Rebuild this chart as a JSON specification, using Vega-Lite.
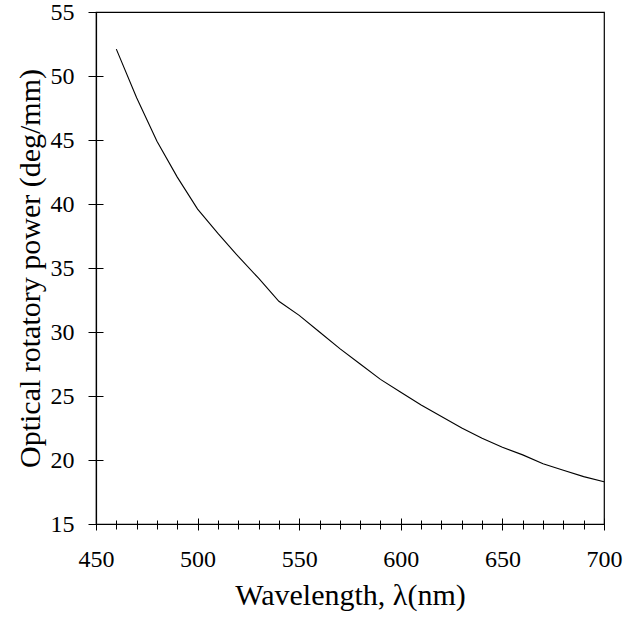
{
  "$schema": "https://vega.github.io/schema/vega-lite/v6.json",
  "width": 508,
  "height": 512,
  "autosize": "none",
  "padding": {"left": 96, "top": 12, "right": 20, "bottom": 106},
  "background": "white",
  "config": {
    "view": {"stroke": "black", "strokeWidth": 1.2},
    "font": "Times New Roman",
    "axis": {"grid": false, "domainColor": "black", "tickColor": "black", "labelColor": "black", "titleColor": "black", "labelFont": "Times New Roman", "titleFont": "Times New Roman", "titleFontWeight": "normal", "domainWidth": 1.2, "tickWidth": 1, "labelFlush": false, "labelOverlap": false}
  },
  "data": {"values": [
    {"wl": 460, "orp": 52.1},
    {"wl": 470, "orp": 48.3},
    {"wl": 480, "orp": 44.9},
    {"wl": 490, "orp": 42.1},
    {"wl": 500, "orp": 39.6},
    {"wl": 510, "orp": 37.7},
    {"wl": 520, "orp": 35.9},
    {"wl": 530, "orp": 34.2},
    {"wl": 540, "orp": 32.4},
    {"wl": 550, "orp": 31.3},
    {"wl": 560, "orp": 30.0},
    {"wl": 570, "orp": 28.7},
    {"wl": 580, "orp": 27.5},
    {"wl": 590, "orp": 26.3},
    {"wl": 600, "orp": 25.3},
    {"wl": 610, "orp": 24.3},
    {"wl": 620, "orp": 23.4},
    {"wl": 630, "orp": 22.5},
    {"wl": 640, "orp": 21.7},
    {"wl": 650, "orp": 21.0},
    {"wl": 660, "orp": 20.4},
    {"wl": 670, "orp": 19.7},
    {"wl": 680, "orp": 19.2},
    {"wl": 690, "orp": 18.7},
    {"wl": 700, "orp": 18.3}
  ]},
  "layer": [
    {
      "mark": {"type": "line", "color": "black", "strokeWidth": 1.1},
      "encoding": {
        "x": {"field": "wl", "type": "quantitative", "scale": {"domain": [450, 700], "nice": false, "zero": false},
          "axis": {"orient": "bottom", "title": "Wavelength, λ(nm)", "titleFontSize": 30, "titlePadding": 9,
            "values": [450,460,470,480,490,500,510,520,530,540,550,560,570,580,590,600,610,620,630,640,650,660,670,680,690,700],
            "labelExpr": "datum.value % 50 == 0 ? datum.label : ''", "labelFontSize": 24, "labelPadding": 17,
            "tickSize": {"condition": {"test": "datum.value % 50 == 0", "value": 6}, "value": 5}}},
        "y": {"field": "orp", "type": "quantitative", "scale": {"domain": [15, 55], "nice": false, "zero": false},
          "axis": {"orient": "left", "title": "Optical rotatory power (deg/mm)", "titleFontSize": 30, "titlePadding": 5,
            "values": [15,20,25,30,35,40,45,50,55], "labelFontSize": 24, "labelPadding": 14, "tickSize": 8}}
      }
    },
    {
      "mark": {"type": "line", "color": "black", "strokeOpacity": 0},
      "encoding": {
        "x": {"field": "wl", "type": "quantitative",
          "axis": {"orient": "bottom", "title": null, "labels": false, "domain": false,
            "values": [450,460,470,480,490,500,510,520,530,540,550,560,570,580,590,600,610,620,630,640,650,660,670,680,690,700],
            "tickSize": {"condition": {"test": "datum.value % 50 == 0", "value": -6}, "value": -4}}},
        "y": {"field": "orp", "type": "quantitative",
          "axis": {"orient": "left", "title": null, "labels": false, "domain": false,
            "values": [15,20,25,30,35,40,45,50,55], "tickSize": -7}}
      }
    }
  ],
  "resolve": {"axis": {"x": "independent", "y": "independent"}}
}
